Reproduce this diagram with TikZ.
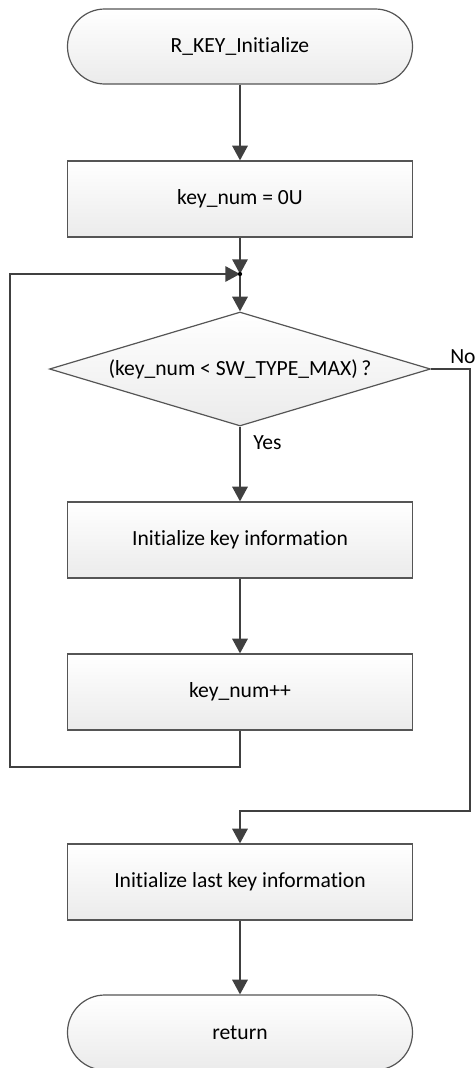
\documentclass[tikz,border=0pt]{standalone}
\usepackage{fontspec}
\setmainfont{Carlito}[Ligatures={NoCommon}, RawFeature={-liga;-clig;-dlig}]
\usetikzlibrary{arrows.meta,shapes.geometric}
\definecolor{linec}{HTML}{404040}
\definecolor{borderc}{HTML}{555555}
\definecolor{fillbot}{HTML}{EBEBEB}
\begin{document}
\begin{tikzpicture}[x=0.75pt,y=-0.75pt,
  every node/.style={font=\fontsize{16.2pt}{19pt}\selectfont, text=black},
  shaded/.style={draw=borderc, line width=0.9pt, top color=white, bottom color=fillbot},
  stepbox/.style={shaded, rectangle, minimum width=258.75pt, minimum height=57pt, inner sep=0pt},
  termbox/.style={shaded, rectangle, rounded corners=28pt, minimum width=258.75pt, minimum height=56.25pt, inner sep=0pt},
  decbox/.style={shaded, diamond, shape aspect=3.3, minimum width=285.75pt, minimum height=85.5pt, inner sep=0pt},
  flow/.style={draw=linec, line width=1.5pt, -{Triangle[length=11pt,width=11.5pt]}, color=linec},
  plain/.style={draw=linec, line width=1.5pt}
]
\useasboundingbox (0,0) rectangle (475,1068);
\node[termbox] (start) at (240,46.5) {R\_KEY\_Initialize};
\node[stepbox] (b1) at (240,199) {key\_num = 0U};
\coordinate (j) at (240,274);
\node[decbox] (dec) at (240,369) {(key\_num < SW\_TYPE\_MAX)\,?};
\node[stepbox] (b2) at (240,540) {Initialize key information};
\node[stepbox] (b3) at (240,692) {key\_num++};
\node[stepbox] (b4) at (240,882) {Initialize last key information};
\node[termbox] (end) at (240,1032.5) {return};
\coordinate (lb) at (240,767);
\coordinate (ll) at (10,767);
\coordinate (lt) at (10,274);
\coordinate (nr) at (470,369);
\coordinate (nb) at (470,811);
\coordinate (nc) at (240,811);

\draw[flow] (start) -- (b1);
\draw[flow] (b1) -- (j);
\draw[flow] (j) -- (dec.north);
\draw[flow] (b3.south) -- (lb) -- (ll) -- (lt) -- (j);
\draw[flow] (dec.south) -- node[pos=0.22, right=6pt] (yes) {Yes} (b2.north);
\draw[flow] (b2) -- (b3);
\draw[flow] (dec.east) -- (nr) -- (nb) -- (nc) -- (b4.north);
\draw[flow] (b4) -- (end);
\node[anchor=base west, inner sep=0pt] (no) at (450,363) {No};
\fill[black] (j) circle (1.6pt);
\end{tikzpicture}
\end{document}
